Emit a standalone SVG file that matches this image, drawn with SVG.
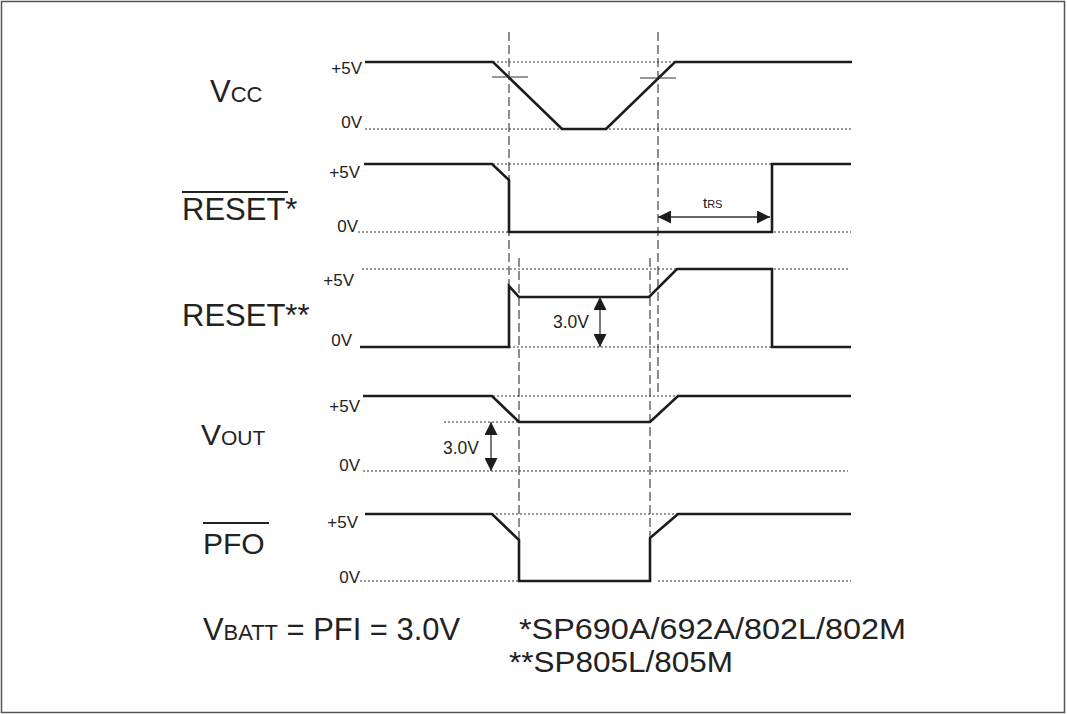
<svg xmlns="http://www.w3.org/2000/svg" width="1067" height="714" viewBox="0 0 1067 714">
<style>
text{font-family:"Liberation Sans",Arial,sans-serif;fill:#222}
.lv{font-size:17px;text-anchor:end}
.big{font-size:31px}
.tr{fill:none;stroke:#1c1c1c;stroke-width:2.6;stroke-linejoin:miter}
.dot{fill:none;stroke:#333;stroke-width:1;stroke-dasharray:2,2}
.dash{fill:none;stroke:#444;stroke-width:1.2;stroke-dasharray:9,4}
.thin{fill:none;stroke:#333;stroke-width:1.2}
.arr{fill:none;stroke:#333;stroke-width:1.3;marker-start:url(#ah);marker-end:url(#ah)}
.ovl{stroke:#222;stroke-width:1.8}
.note{font-size:29px}
</style>
<defs>
<marker id="ah" markerUnits="userSpaceOnUse" markerWidth="14" markerHeight="13" refX="13" refY="6.5" orient="auto-start-reverse">
<path d="M0,0 L13,6.5 L0,13 z" fill="#1c1c1c"/>
</marker>
</defs>
<rect x="1.5" y="1.5" width="1063" height="711" fill="#fff" stroke="#555" stroke-width="1.5"/>

<g id="guides">
<line class="dash" x1="509" y1="32" x2="509" y2="286"/>
<line class="dash" x1="658" y1="32" x2="658" y2="396"/>
<line class="dash" x1="519" y1="258" x2="519" y2="540"/>
<line class="dash" x1="650" y1="258" x2="650" y2="538"/>
</g>

<g id="vcc">
<line class="dot" x1="493" y1="62" x2="675" y2="62"/>
<line class="dot" x1="365" y1="129" x2="852" y2="129"/>
<polyline class="tr" points="365,62 493,62 562,129 606,129 675,62 852,62"/>
<line class="thin" x1="492" y1="77" x2="528" y2="77"/>
<line class="thin" x1="640" y1="78" x2="676" y2="78"/>
<text class="lv" x="362" y="74">+5V</text>
<text class="lv" x="362" y="128">0V</text>
<text x="210" y="102"><tspan font-size="31">V</tspan><tspan font-size="22">CC</tspan></text>
</g>

<g id="reset-n">
<line class="dot" x1="493" y1="164" x2="772" y2="164"/>
<line class="dot" x1="358" y1="232" x2="851" y2="232"/>
<polyline class="tr" points="364,164 492,164 509,180 509,232 772,232 772,164 851,164"/>
<line class="arr" x1="658" y1="217" x2="770" y2="217"/>
<text x="703" y="208"><tspan font-size="15">t</tspan><tspan font-size="11">RS</tspan></text>
<text class="lv" x="360" y="178">+5V</text>
<text class="lv" x="358" y="232">0V</text>
<text class="big" x="182" y="220">RESET*</text>
<line class="ovl" x1="182" y1="192" x2="288" y2="192"/>
</g>

<g id="reset-p">
<line class="dot" x1="362" y1="269" x2="848" y2="269"/>
<line class="dot" x1="509" y1="347" x2="772" y2="347"/>
<polyline class="tr" points="360,347 509,347 509,286 519,297 649,297 677,269 772,269 772,347 851,347"/>
<line class="arr" x1="600" y1="297" x2="600" y2="347"/>
<text x="553" y="328" font-size="17.5">3.0V</text>
<text class="lv" x="354" y="286">+5V</text>
<text class="lv" x="352" y="346">0V</text>
<text class="big" x="182" y="326">RESET**</text>
</g>

<g id="vout">
<line class="dot" x1="493" y1="396" x2="678" y2="396"/>
<line class="dot" x1="444" y1="422" x2="519" y2="422"/>
<line class="dot" x1="363" y1="471" x2="848" y2="471"/>
<polyline class="tr" points="363,396 492,396 519,422 650,422 678,396 851,396"/>
<line class="arr" x1="491" y1="422" x2="491" y2="471"/>
<text x="443" y="454" font-size="17.5">3.0V</text>
<text class="lv" x="360" y="412">+5V</text>
<text class="lv" x="360" y="471">0V</text>
<text x="201" y="445"><tspan font-size="30">V</tspan><tspan font-size="21">OUT</tspan></text>
</g>

<g id="pfo">
<line class="dot" x1="492" y1="514" x2="678" y2="514"/>
<line class="dot" x1="360" y1="581" x2="519" y2="581"/>
<line class="dot" x1="658" y1="581" x2="851" y2="581"/>
<polyline class="tr" points="365,514 492,514 519,540 519,581 650,581 650,538 678,514 851,514"/>
<text class="lv" x="358" y="528">+5V</text>
<text class="lv" x="360" y="583">0V</text>
<text x="203" y="554" font-size="30">PFO</text>
<line class="ovl" x1="203" y1="523" x2="269" y2="523"/>
</g>

<g id="notes">
<text x="203" y="640" textLength="257" lengthAdjust="spacingAndGlyphs"><tspan font-size="31">V</tspan><tspan font-size="22">BATT</tspan><tspan font-size="31"> = PFI = 3.0V</tspan></text>
<text class="note" x="519" y="639" textLength="387" lengthAdjust="spacingAndGlyphs">*SP690A/692A/802L/802M</text>
<text class="note" x="509" y="672" textLength="224" lengthAdjust="spacingAndGlyphs">**SP805L/805M</text>
</g>
</svg>
